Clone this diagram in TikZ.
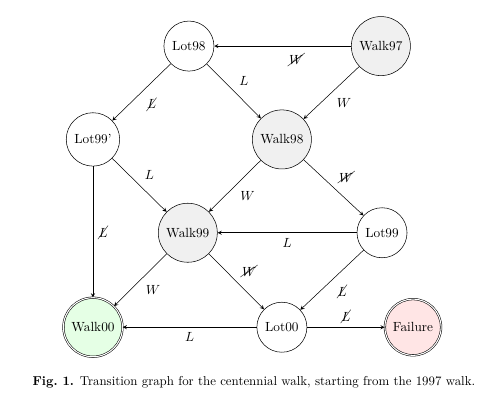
\documentclass[tikz,border=0pt]{standalone}
\usepackage{amsmath}
\usepackage{amssymb}
\usepackage{cancel}
\usepackage{tikz}
\usetikzlibrary{positioning}

\begin{document}
\begin{tikzpicture}[>=stealth,
    state/.style={draw,circle,thin,inner sep=4.5pt},
    walkstate/.style={state,fill=black!6},
    finalstate/.style={state,double,double distance=0.8pt},
    lbl/.style={auto,inner sep=4pt}]
  \useasboundingbox (0,0) rectangle (13.1,10.72);
  \node[state] (lot98) at (5.0,9.5) {Lot98};
  \node[walkstate] (walk97) at (10.08,9.5) {Walk97};
  \node[state] (lot99p) at (2.46,7.03) {Lot99'};
  \node[walkstate] (walk98) at (7.46,7.03) {Walk98};
  \node[walkstate] (walk99) at (4.97,4.56) {Walk99};
  \node[state] (lot99) at (10.11,4.56) {Lot99};
  \node[finalstate,fill=green!10] (walk00) at (2.46,2.06) {Walk00};
  \node[state] (lot00) at (7.46,2.06) {Lot00};
  \node[finalstate,fill=red!10] (failure) at (10.93,2.06) {Failure};
  \draw[->] (walk97) -- node[lbl,pos=0.4,inner sep=5.5pt] {$\cancel{W}$} (lot98);
  \draw[->] (walk97) -- node[lbl] {$W$} (walk98);
  \draw[->] (lot98) -- node[lbl] {$\cancel{L}$} (lot99p);
  \draw[->] (lot98) -- node[lbl] {$L$} (walk98);
  \draw[->] (lot99p) -- node[lbl] {$L$} (walk99);
  \draw[->] (lot99p) -- node[lbl] {$\cancel{L}$} (walk00);
  \draw[->] (walk98) -- node[lbl] {$W$} (walk99);
  \draw[->] (walk98) -- node[lbl] {$\cancel{W}$} (lot99);
  \draw[->] (lot99) -- node[lbl] {$L$} (walk99);
  \draw[->] (lot99) -- node[lbl] {$\cancel{L}$} (lot00);
  \draw[->] (walk99) -- node[lbl] {$W$} (walk00);
  \draw[->] (walk99) -- node[lbl] {$\cancel{W}$} (lot00);
  \draw[->] (lot00) -- node[lbl] {$L$} (walk00);
  \draw[->] (lot00) -- node[lbl] {$\cancel{L}$} (failure);
  \node[font=\fontsize{9.7}{11.6}\selectfont] (caption) at (6.72,0.6)
       {\textbf{Fig.\ 1.} Transition graph for the centennial walk, starting from the 1997 walk.};
\end{tikzpicture}
\end{document}
